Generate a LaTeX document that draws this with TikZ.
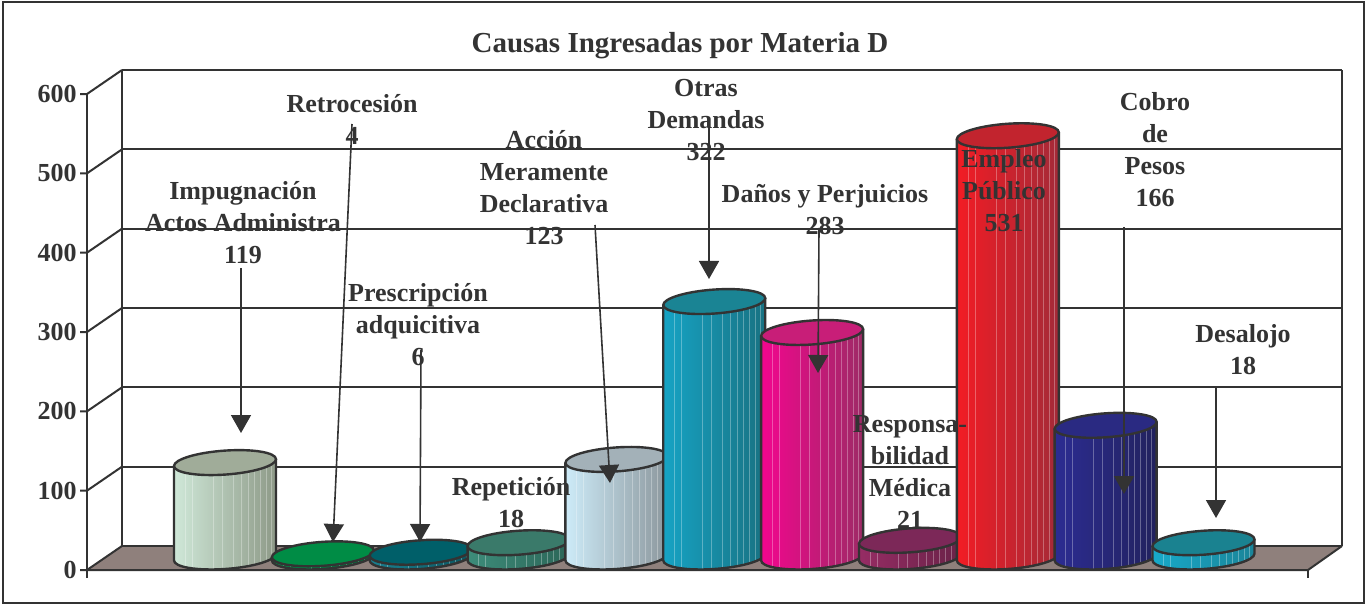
\documentclass[tikz,border=0pt]{standalone}
\usepackage{fontspec}
\setmainfont{Liberation Serif}
\usetikzlibrary{arrows.meta}
\definecolor{trait}{HTML}{333333}
\definecolor{sol}{HTML}{8F807C}
% couleurs des cylindres (gauche, droite, dessus)
\definecolor{impL}{HTML}{CFE8D8}\definecolor{impR}{HTML}{8E9A88}\definecolor{impT}{HTML}{A0AC99}
\definecolor{retL}{HTML}{00904A}\definecolor{retR}{HTML}{006A38}\definecolor{retT}{HTML}{008C45}
\definecolor{preL}{HTML}{1A8090}\definecolor{preR}{HTML}{0A5560}\definecolor{preT}{HTML}{005F69}
\definecolor{repL}{HTML}{3D8C7A}\definecolor{repR}{HTML}{2C6658}\definecolor{repT}{HTML}{3A7A6A}
\definecolor{accL}{HTML}{CDEBF8}\definecolor{accR}{HTML}{8C979D}\definecolor{accT}{HTML}{A3B1B8}
\definecolor{otrL}{HTML}{16A3C4}\definecolor{otrR}{HTML}{187282}\definecolor{otrT}{HTML}{1A8494}
\definecolor{danL}{HTML}{F2068E}\definecolor{danR}{HTML}{9E2A66}\definecolor{danT}{HTML}{C81E78}
\definecolor{resL}{HTML}{962C64}\definecolor{resR}{HTML}{6A2248}\definecolor{resT}{HTML}{7C2858}
\definecolor{empL}{HTML}{F21C24}\definecolor{empR}{HTML}{A42A38}\definecolor{empT}{HTML}{C2242E}
\definecolor{cobL}{HTML}{2C2C92}\definecolor{cobR}{HTML}{22225E}\definecolor{cobT}{HTML}{2A2A82}
\definecolor{desL}{HTML}{18AACA}\definecolor{desR}{HTML}{1A8498}\definecolor{desT}{HTML}{1A8290}

\tikzset{
  bord/.style={draw=trait, line width=1.2pt},
  grille/.style={trait, line width=1pt},
  etiquette/.style={text=trait, align=center, font=\fontsize{13}{16}\selectfont\bfseries},
  fleche/.style={trait, line width=.8pt, -{Triangle[width=10pt,length=9pt]}}
}

% cylindre : centre x, valeur, gauche, droite, dessus
\newcommand{\cylindre}[5]{%
  \begin{scope}[shift={(#1,48)}, yslant=0.067]
    \pgfmathsetmacro{\hcyl}{#2*0.7933}
    \begin{scope}
      \clip (-51,\hcyl) -- (-51,0) arc[start angle=180, end angle=360, x radius=51, y radius=12] -- (51,\hcyl) -- cycle;
      \shade[left color=#3, right color=#4] (-51,-13) rectangle (51,\hcyl);
      \foreach \s in {-40,-33,-12,-3,8,16,23,29,35,41,46}
        \draw[white, opacity=.3, line width=.3pt] (\s,-13) -- (\s,\hcyl);
    \end{scope}
    \draw[bord] (-51,\hcyl) -- (-51,0) arc[start angle=180, end angle=360, x radius=51, y radius=12] -- (51,\hcyl);
    \draw[bord, fill=#5] (0,\hcyl) ellipse [x radius=51, y radius=12];
  \end{scope}}

\begin{document}
\begin{tikzpicture}[x=0.5pt, y=0.5pt]
    \useasboundingbox (0,0) rectangle (1368,605);
    % Cadre
    \draw[trait, line width=1pt] (3,2) rectangle (1364,603);

    % Titre
    \node[etiquette, font=\fontsize{14.5}{17}\selectfont\bfseries] (titre) at (680,559) {Causas Ingresadas por Materia D};

    % Sol
    \fill[sol] (87,35) -- (1308,35) -- (1342,59) -- (122,59) -- cycle;
    \draw[grille] (87,35) -- (1308,35) -- (1342,59);
    \draw[grille] (1308,35) -- (1308,27);

    % Mur du fond
    \draw[grille] (122,59) -- (122,535);
    \draw[grille] (1342,59) -- (1342,535);
    \foreach \v in {0,100,...,600}
        \draw[grille] (122,59+\v*0.7933) -- (1342,59+\v*0.7933);

    % Axe des valeurs
    \draw[grille] (87,27) -- (87,511);
    \foreach \v in {0,100,...,600}{
        \draw[grille] (80,35+\v*0.7933) -- (87,35+\v*0.7933) -- (122,59+\v*0.7933);
        \node[etiquette, anchor=east, inner sep=0pt] (t\v) at (77,35+\v*0.7933) {\v};
    }

    % Cylindres
    \cylindre{225}{119}{impL}{impR}{impT}
    \cylindre{322.85}{4}{retL}{retR}{retT}
    \cylindre{420.7}{6}{preL}{preR}{preT}
    \cylindre{518.55}{18}{repL}{repR}{repT}
    \cylindre{616.4}{123}{accL}{accR}{accT}
    \cylindre{714.25}{322}{otrL}{otrR}{otrT}
    \cylindre{812.1}{283}{danL}{danR}{danT}
    \cylindre{909.95}{21}{resL}{resR}{resT}
    \cylindre{1007.8}{531}{empL}{empR}{empT}
    \cylindre{1105.65}{166}{cobL}{cobR}{cobT}
    \cylindre{1203.5}{18}{desL}{desR}{desT}

    % Etiquettes
    \node[etiquette] (impug) at (243,382) {Impugnación\\Actos Administra\\119};
    \node[etiquette] (retro) at (352,486) {Retrocesión\\4};
    \node[etiquette] (presc) at (418,280) {Prescripción\\adquicitiva\\6};
    \node[etiquette] (repet) at (511,102) {Repetición\\18};
    \node[etiquette] (accion) at (544,417) {Acción\\Meramente\\Declarativa\\123};
    \node[etiquette] (otras) at (706,485) {Otras\\Demandas\\322};
    \node[etiquette] (danos) at (825,395) {Daños y Perjuicios\\283};
    \node[etiquette] (respo) at (910,133) {Responsa-\\bilidad\\Médica\\21};
    \node[etiquette] (empleo) at (1004,414) {Empleo\\Público\\531};
    \node[etiquette] (cobro) at (1155,455) {Cobro\\de\\Pesos\\166};
    \node[etiquette] (desal) at (1243,255) {Desalojo\\18};

    % Fleches
    \coordinate (impugA) at (241,337);  \coordinate (impugB) at (241,172);
    \coordinate (retroA) at (352,481);  \coordinate (retroB) at (333,63);
    \coordinate (prescA) at (421,255);  \coordinate (prescB) at (420,63);
    \coordinate (accionA) at (595,380); \coordinate (accionB) at (610,122);
    \coordinate (otrasA) at (709,480);  \coordinate (otrasB) at (709,326);
    \coordinate (danosA) at (819,377);  \coordinate (danosB) at (818,232);
    \coordinate (cobroA) at (1124,378); \coordinate (cobroB) at (1124,111);
    \coordinate (desalA) at (1216,218); \coordinate (desalB) at (1216,87);
    \foreach \n in {impug,retro,presc,accion,otras,danos,cobro,desal}
        \draw[fleche] (\n A) -- (\n B);
\end{tikzpicture}
\end{document}
